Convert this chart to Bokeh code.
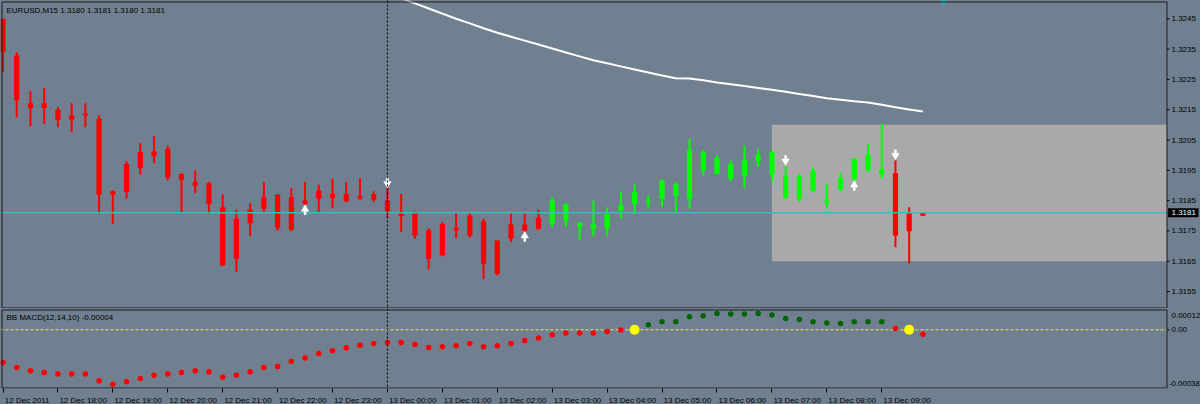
import numpy as np
from bokeh.plotting import figure
from bokeh.models import (ColumnDataSource, Span, Label, FixedTicker, Range1d)
from bokeh.layouts import column
from bokeh.embed import file_html
from bokeh.resources import INLINE
from bokeh.core.properties import value

# ---------------- data ----------------
symbol_title = "EURUSD,M15  1.3180 1.3181 1.3180 1.3181"
macd_title = "BB MACD(12,14,10) -0.00004"

# bar index 0 = 12 Dec 2011 17:00, one bar = 15 minutes
tick_bars = [0, 4, 8, 12, 16, 20, 24, 28, 32, 36, 40, 44, 48, 52, 56, 60, 64]
tick_labels = ["12 Dec 2011", "12 Dec 18:00", "12 Dec 19:00", "12 Dec 20:00",
               "12 Dec 21:00", "12 Dec 22:00", "12 Dec 23:00", "13 Dec 00:00",
               "13 Dec 01:00", "13 Dec 02:00", "13 Dec 03:00", "13 Dec 04:00",
               "13 Dec 05:00", "13 Dec 06:00", "13 Dec 07:00", "13 Dec 08:00",
               "13 Dec 09:00"]
day_separator_bar = 28

price_ticks = [1.3155, 1.3165, 1.3175, 1.3185, 1.3195, 1.3205, 1.3215,
               1.3225, 1.3235, 1.3245]

high = [1.32451, 1.32340, 1.32211, 1.32221, 1.32158, 1.32171, 1.32171, 1.32131,
        1.31883, 1.31980, 1.32039, 1.32062, 1.32032, 1.31940, 1.31949, 1.31911,
        1.31870, 1.31820, 1.31841, 1.31911, 1.31872, 1.31891, 1.31911, 1.31902,
        1.31922, 1.31911, 1.31924, 1.31881, 1.31894, 1.31872, 1.31814, 1.31759,
        1.31779, 1.31812, 1.31812, 1.31790, 1.31718, 1.31812, 1.31812, 1.31820,
        1.31859, 1.31841, 1.31779, 1.31850, 1.31828, 1.31881, 1.31905, 1.31867,
        1.31920, 1.31911, 1.32054, 1.32015, 1.31999, 1.31982, 1.32032, 1.32021,
        1.32015, 1.31963, 1.31938, 1.31960, 1.31905, 1.31940, 1.31991, 1.32037,
        1.32103, 1.31982, 1.31828, 1.31810]
low = [1.32274, 1.32125, 1.32095, 1.32103, 1.32092, 1.32076, 1.32092, 1.31806,
       1.31773, 1.31856, 1.31936, 1.31973, 1.31916, 1.31812, 1.31874, 1.31806,
       1.31634, 1.31614, 1.31732, 1.31812, 1.31751, 1.31749, 1.31834, 1.31812,
       1.31825, 1.31845, 1.31853, 1.31845, 1.31793, 1.31746, 1.31724, 1.31623,
       1.31666, 1.31726, 1.31727, 1.31592, 1.31603, 1.31713, 1.31746, 1.31754,
       1.31764, 1.31764, 1.31721, 1.31732, 1.31732, 1.31790, 1.31806, 1.31823,
       1.31830, 1.31812, 1.31823, 1.31933, 1.31936, 1.31914, 1.31892, 1.31960,
       1.31911, 1.31856, 1.31845, 1.31878, 1.31823, 1.31881, 1.31911, 1.31944,
       1.31922, 1.31696, 1.31643, 1.31800]
open_ = [1.32450, 1.32329, 1.32171, 1.32171, 1.32150, 1.32131, 1.32137, 1.32120,
         1.31881, 1.31971, 1.32010, 1.32013, 1.32021, 1.31938, 1.31911, 1.31907,
         1.31828, 1.31790, 1.31821, 1.31861, 1.31869, 1.31861, 1.31850, 1.31883,
         1.31872, 1.31872, 1.31864, 1.31872, 1.31850, 1.31812, 1.31812, 1.31751,
         1.31773, 1.31760, 1.31801, 1.31782, 1.31718, 1.31771, 1.31771, 1.31793,
         1.31775, 1.31784, 1.31762, 1.31757, 1.31757, 1.31817, 1.31839, 1.31845,
         1.31856, 1.31867, 1.31856, 1.31949, 1.31938, 1.31922, 1.31933, 1.31979,
         1.31936, 1.31859, 1.31856, 1.31883, 1.31843, 1.31886, 1.31919, 1.31949,
         1.31936, 1.31940, 1.31808, 1.31800]
close = [1.32340, 1.32180, 1.32156, 1.32156, 1.32117, 1.32117, 1.32131, 1.31869,
         1.31869, 1.31878, 1.31958, 1.31996, 1.31927, 1.31919, 1.31899, 1.31839,
         1.31636, 1.31658, 1.31775, 1.31823, 1.31760, 1.31754, 1.31840, 1.31856,
         1.31858, 1.31847, 1.31857, 1.31853, 1.31815, 1.31798, 1.31735, 1.31658,
         1.31669, 1.31751, 1.31735, 1.31641, 1.31608, 1.31724, 1.31751, 1.31757,
         1.31850, 1.31837, 1.31777, 1.31771, 1.31806, 1.31834, 1.31878, 1.31850,
         1.31916, 1.31905, 1.32018, 1.32010, 1.31991, 1.31971, 1.31982, 1.32001,
         1.32010, 1.31930, 1.31930, 1.31949, 1.31850, 1.31925, 1.31988, 1.32002,
         1.31952, 1.31735, 1.31749, 1.31810]
# trend colouring of the candles: 0 = bearish (red), 1 = bullish (green)
candle_trend = [0] * 40 + [1] * 25 + [0] * 3

# moving average (white line), bars 28..67
ma_start = 28
ma_values = [1.32533, 1.32517, 1.32501, 1.32484, 1.32467, 1.32450, 1.32435,
             1.32419, 1.32404, 1.32391, 1.32378, 1.32365, 1.32352, 1.32339,
             1.32326, 1.32313, 1.32303, 1.32293, 1.32283, 1.32273, 1.32263,
             1.32254, 1.32253, 1.32247, 1.32240, 1.32234, 1.32228, 1.32222,
             1.32216, 1.32209, 1.32202, 1.32195, 1.32188, 1.32183, 1.32178,
             1.32174, 1.32166, 1.32158, 1.32151, 1.32144]

bid_price = 1.3181

# rectangle object (13 Dec 07:00 onward)
rect_bar_from = 56
rect_bar_to = 120
rect_price_top = 1.3210
rect_price_bottom = 1.3165

# signal arrows
arrow_up_bars = [22, 38, 62]
arrow_up_prices = [1.31817, 1.31729, 1.31897]
arrow_dn_bars = [28, 57, 65]
arrow_dn_prices = [1.31911, 1.31985, 1.32004]

# small cyan object at top edge
obj_bars = [68.5]
obj_prices = [1.32508]

# BB MACD values (x 1e-5)
macd = [-21.1, -24.3, -26.4, -27.5, -28.5, -28.5, -28.5, -32.8, -35.0, -33.5,
        -31.4, -29.2, -28.5, -27.5, -26.4, -27.0, -30.5, -29.2, -27.0, -24.3,
        -23.6, -20.4, -18.2, -15.3, -13.5, -11.6, -9.9, -8.8, -8.2, -8.2,
        -9.5, -11.4, -10.9, -10.3, -8.8, -10.9, -10.3, -8.8, -6.9, -5.3,
        -3.2, -2.1, -2.1, -2.1, -1.1, -0.2, 0.0, 3.2, 5.2, 5.2,
        8.4, 9.0, 10.5, 10.1, 10.1, 10.5, 9.5, 7.3, 6.6, 5.2,
        4.3, 4.1, 5.2, 5.2, 5.2, 0.8, 0.0, -2.8]
macd_state = [0] * 46 + [1] * 19 + [0] * 3
macd_cross_bars = [46, 66]
macd_max = 0.00012
macd_min = -0.00038
macd_labels = ["0.00012", "0.00", "-0.00038"]

# ---------------- layout / scale constants ----------------
BG = "#708090"
FONT_NAME = "Liberation Sans"
FONT = value(FONT_NAME)
W = 1200
BAR_PX = 13.73          # pixels per bar
X0 = 2.5                # pixel position of bar 0
PRICE_PX = 30300.0      # pixels per price unit
P_REF, P_REF_Y = 1.3245, 18.3
MACD_PX = 155263.0
MACD_ZERO_Y = 329.3     # page pixel row of MACD zero
H1 = 308                # main panel height (page rows 0..308)
H2F = 80                # MACD frame (page rows 308..388)

def px2bar(x):
    return (x - X0) / BAR_PX

def price_at(y):
    return P_REF - (y - P_REF_Y) / PRICE_PX

def macd_at(y):
    return (MACD_ZERO_Y - y) / MACD_PX

edge_l = px2bar(1.5)
edge_r = px2bar(1166.5)
xr = Range1d(px2bar(0), px2bar(W))

n = len(high)
idx = np.arange(n)

# ---------------- main panel ----------------
p1 = figure(frame_width=W, frame_height=H1, x_range=xr,
            y_range=Range1d(price_at(H1), price_at(0)),
            output_backend="svg", toolbar_location=None,
            x_axis_location=None, y_axis_location=None, min_border=0)
p1.background_fill_color = BG
p1.border_fill_color = BG
p1.outline_line_color = None
p1.grid.visible = False

p1.quad(left=[rect_bar_from], right=[min(rect_bar_to, edge_r)],
        top=[rect_price_top], bottom=[rect_price_bottom],
        fill_color="#a9a9a9", line_color=None)

o = np.array(open_); c = np.array(close)
top = np.maximum(o, c); bot = np.minimum(o, c)
mid = (top + bot) / 2
hh = np.maximum(top - bot, 1.3 / PRICE_PX)
cols = ["#00ff00" if t else "#ff0000" for t in candle_trend]
src = ColumnDataSource(dict(x=idx, high=high, low=low, top=mid + hh / 2,
                            bot=mid - hh / 2, color=cols))
p1.segment(x0="x", y0="high", x1="x", y1="low", color="color",
           line_width=2, source=src)
p1.vbar(x="x", width=5.2 / BAR_PX, top="top", bottom="bot", fill_color="color",
        line_color=None, source=src)

# bid line (stops at the price scale)
p1.segment(x0=[px2bar(0)], y0=[bid_price], x1=[edge_r], y1=[bid_price],
           line_color="#3cbcbc", line_width=1.5)

p1.line(np.arange(ma_start, ma_start + len(ma_values)), ma_values,
        line_color="white", line_width=2)

# arrows: triangular head + thick stem
up_p = np.array(arrow_up_prices); dn_p = np.array(arrow_dn_prices)
p1.segment(x0=arrow_up_bars, y0=up_p, x1=arrow_up_bars, y1=up_p - 4.5 / PRICE_PX,
           line_color="white", line_width=2.5)
p1.scatter(arrow_up_bars, up_p + 1.5 / PRICE_PX, marker="triangle", size=7.5,
           fill_color="white", line_color="white", line_width=0.5)
p1.segment(x0=arrow_dn_bars, y0=dn_p, x1=arrow_dn_bars, y1=dn_p + 4.5 / PRICE_PX,
           line_color="white", line_width=2.5)
p1.scatter(arrow_dn_bars, dn_p - 1.5 / PRICE_PX, marker="inverted_triangle",
           size=7.5, fill_color="white", line_color="white", line_width=0.5)

p1.scatter(obj_bars, obj_prices, size=6, color="#20c0c0", line_color=None)

p1.add_layout(Span(location=day_separator_bar, dimension="height",
                   line_color="black", line_dash="2 2", line_width=1))

# panel border
pt, pb = price_at(1.5), price_at(307.5)
p1.line([edge_l, edge_l, edge_r, edge_r, edge_l], [pb, pt, pt, pb, pb],
        line_color="#1a1a1a", line_width=1)

# price scale
p1.segment(x0=[edge_r] * len(price_ticks), y0=price_ticks,
           x1=[edge_r + 2.5 / BAR_PX] * len(price_ticks), y1=price_ticks,
           line_color="black", line_width=1)
p1.text(x=[edge_r] * len(price_ticks), y=price_ticks,
        text=[f"{t:.4f}" for t in price_ticks], x_offset=4.5,
        text_align="left", text_baseline="middle", text_font=FONT,
        text_font_size="8px", text_color="black")
half = 4.5 / PRICE_PX
p1.quad(left=[edge_r + 1 / BAR_PX], right=[px2bar(W - 2)],
        top=[bid_price + half], bottom=[bid_price - half],
        fill_color="black", line_color=None)
p1.text(x=[edge_r], y=[bid_price], text=[f"{bid_price:.4f}"], x_offset=4.5,
        text_align="left", text_baseline="middle", text_font=FONT,
        text_font_size="8px", text_color="white")

p1.add_layout(Label(x=6, y=H1 - 5, x_units="screen", y_units="screen",
                    text=symbol_title, text_font=FONT_NAME, text_font_size="8px",
                    text_color="black", text_baseline="top"))

# ---------------- MACD panel ----------------
p2 = figure(frame_width=W, frame_height=H2F, x_range=xr,
            y_range=Range1d(macd_at(H1 + H2F), macd_at(H1)),
            output_backend="svg", toolbar_location=None,
            y_axis_location=None, min_border=0, min_border_bottom=16)
p2.background_fill_color = BG
p2.border_fill_color = BG
p2.outline_line_color = None
p2.grid.visible = False

p2.segment(x0=[px2bar(0)], y0=[0], x1=[edge_r], y1=[0], line_color="#e8e860",
           line_dash="3 2", line_width=1)
p2.add_layout(Span(location=day_separator_bar, dimension="height",
                   line_color="black", line_dash="2 2", line_width=1))

mv = np.array(macd) * 1e-5
mcols = ["#006400" if s else "#ff0000" for s in macd_state]
p2.scatter(idx, mv, size=5.5, color=mcols, line_color=None)
p2.scatter(macd_cross_bars, mv[macd_cross_bars], size=10, color="#ffff00",
           line_color=None)

mt, mb = macd_at(309.5), macd_at(387.5)
p2.line([edge_l, edge_l, edge_r, edge_r, edge_l], [mb, mt, mt, mb, mb],
        line_color="#1a1a1a", line_width=1)
p2.segment(x0=[edge_r], y0=[0], x1=[edge_r + 2.5 / BAR_PX], y1=[0],
           line_color="black", line_width=1)
for val, lab, base, dx, dy, fs in [(macd_max, macd_labels[0], "top", 4.5, 1.5, "8px"),
                                   (0.0, macd_labels[1], "middle", 4.5, 0, "8px"),
                                   (macd_min, macd_labels[2], "bottom", 2.0, -2.5, "7.8px")]:
    p2.text(x=[edge_r], y=[val], text=[lab], x_offset=dx, y_offset=dy,
            text_align="left", text_baseline=base, text_font=FONT,
            text_font_size=fs, text_color="black")

p2.add_layout(Label(x=6, y=H2F - 4, x_units="screen", y_units="screen",
                    text=macd_title, text_font=FONT_NAME, text_font_size="8px",
                    text_color="black", text_baseline="top"))

# time scale: tick marks at the hour bars, labels starting right of each tick
CW = {" ": 278, ":": 278, "D": 722, "e": 556, "c": 500}
def text_px(s):
    return sum(CW.get(ch, 556) for ch in s) * 8 / 1000.0

label_pos = [b + (1.5 + text_px(s) / 2) / BAR_PX
             for b, s in zip(tick_bars, tick_labels)]
xa = p2.xaxis[0]
xa.ticker = FixedTicker(ticks=label_pos, minor_ticks=tick_bars)
xa.major_label_overrides = dict(zip(label_pos, tick_labels))
xa.axis_line_color = None
xa.major_tick_line_color = None
xa.major_tick_out = 0
xa.major_tick_in = 0
xa.minor_tick_line_color = "black"
xa.minor_tick_out = 4
xa.minor_tick_in = 0
xa.major_label_standoff = 3
xa.major_label_text_font = FONT_NAME
xa.major_label_text_font_size = "8px"
xa.major_label_text_color = "black"

p = column(p1, p2, spacing=0)
p.styles = {"background-color": BG}
open("out.html", "w").write(file_html(p, INLINE))
